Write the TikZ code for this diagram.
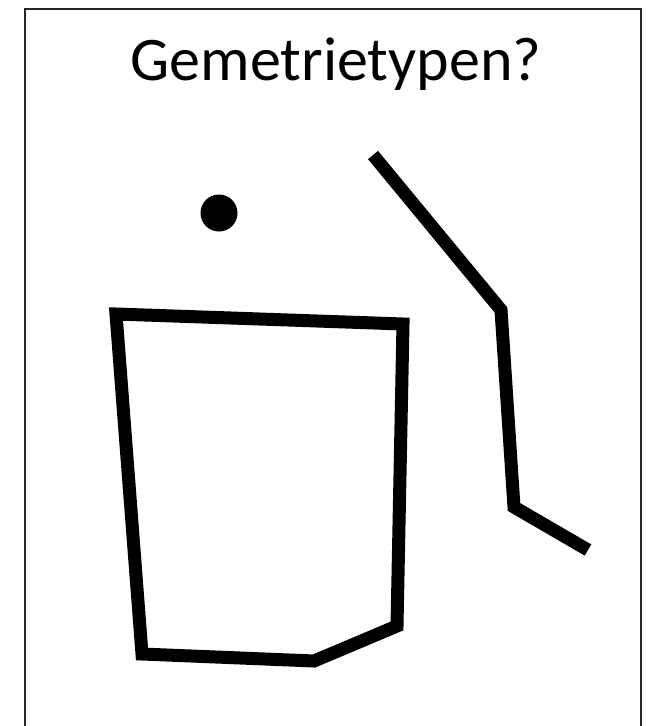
\documentclass[tikz,border=0pt]{standalone}
\usepackage{fontspec}
\setmainfont{Carlito}
\tikzset{
  frame/.style={line width=2pt, draw=black!85},
  geomline/.style={line width=13pt, draw=black, line join=miter},
  title/.style={font=\fontsize{62}{74}\selectfont, anchor=base, inner sep=0pt}
}
\begin{document}
\begin{tikzpicture}[x=1pt,y=-1pt]
\useasboundingbox (0,0) rectangle (649,726);
\clip (0,0) rectangle (649,726);
\draw[frame] (25,760) -- (25,9) -- (641,9) -- (641,760);
\node[title] (t) at (336,80) {Gemetrietypen?};
\fill (219,213) circle (18.5);
\coordinate (p1) at (116,314);
\coordinate (p2) at (403,324);
\coordinate (p3) at (397,626);
\coordinate (p4) at (314,661);
\coordinate (p5) at (142,654);
\draw[geomline] (p1) -- (p2) -- (p3) -- (p4) -- (p5) -- cycle;
\coordinate (l1) at (373,155);
\coordinate (l2) at (501,310);
\coordinate (l3) at (514,507);
\coordinate (l4) at (588,550);
\draw[geomline] (l1) -- (l2) -- (l3) -- (l4);
\end{tikzpicture}
\end{document}
